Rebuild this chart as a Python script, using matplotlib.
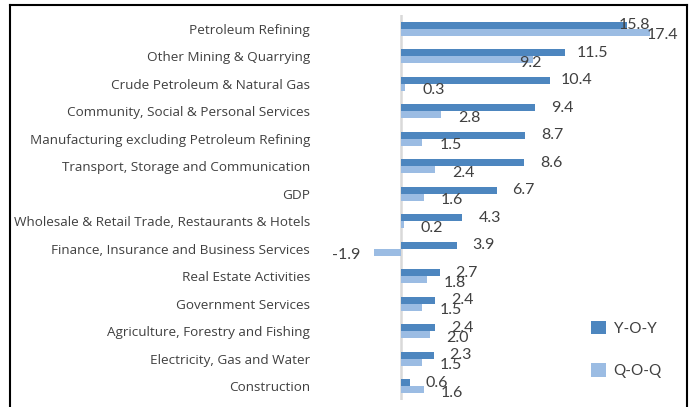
#!/usr/bin/env python3

import matplotlib
matplotlib.use("Agg")
import matplotlib.pyplot as plt
import numpy as np
from matplotlib.lines import Line2D

categories = [
    'Petroleum Refining',
    'Other Mining & Quarrying',
    'Crude Petroleum & Natural Gas',
    'Community, Social & Personal Services',
    'Manufacturing excluding Petroleum Refining',
    'Transport, Storage and Communication',
    'GDP',
    'Wholesale & Retail Trade, Restaurants & Hotels',
    'Finance, Insurance and Business Services',
    'Real Estate Activities',
    'Government Services',
    'Agriculture, Forestry and Fishing',
    'Electricity, Gas and Water',
    'Construction',
]
yoy = [15.8, 11.5, 10.4, 9.4, 8.7, 8.6, 6.7, 4.3, 3.9, 2.7, 2.4, 2.4, 2.3, 0.6]
qoq = [17.4, 9.2, 0.3, 2.8, 1.5, 2.4, 1.6, 0.2, -1.9, 1.8, 1.5, 2.0, 1.5, 1.6]

DARK = '#4d86bf'
LIGHT = '#9bbce3'
TEXT = '#404040'

W, H = 694, 407
fig = plt.figure(figsize=(W / 100, H / 100), dpi=100)

# plot area in pixels: zero line at x=401, 14.3 px per unit
px_per_unit = 14.3
ax_left, ax_right = 360, 675
ax_top, ax_bottom = 15, 400
ax = fig.add_axes([ax_left / W, 1 - ax_bottom / H,
                   (ax_right - ax_left) / W, (ax_bottom - ax_top) / H])
ax.set_xlim((ax_left - 401) / px_per_unit, (ax_right - 401) / px_per_unit)
ax.set_ylim(len(categories) - 0.5, -0.5)

y = np.arange(len(categories))
bh = 0.255
ax.barh(y - bh / 2, yoy, height=bh, color=DARK, label='Y-O-Y')
ax.barh(y + bh / 2, qoq, height=bh, color=LIGHT, label='Q-O-Q')
ax.axvline(0, color='#d9d9d9', lw=1.8, zorder=0.5)

ax.set_yticks(y)
ax.set_yticklabels(categories, fontsize=9.7, color=TEXT, family='Open Sans')
# labels end at x=310px; pad is in points (0.72 pt per px)
ax.tick_params(axis='y', length=0, pad=(ax_left - 310) * 0.72)
ax.set_xticks([])
for s in ax.spines.values():
    s.set_visible(False)
ax.patch.set_alpha(0)

# value labels, nudged like the original (offsets in pixels)
yoy_dx = {0: 7}
qoq_dx = {0: 13, 1: -2}
for i, v in enumerate(yoy):
    dx = yoy_dx.get(i, 27)
    ax.annotate(f'{v:.1f}', (v, i - bh / 2), xytext=(dx if v >= 0 else -dx, 0),
                textcoords='offset pixels', ha='center', va='center',
                fontsize=11.5, color=TEXT, family='Lato')
for i, v in enumerate(qoq):
    dx = qoq_dx.get(i, 28)
    ax.annotate(f'{v:.1f}', (v, i + bh / 2), xytext=(dx if v >= 0 else -dx, -3),
                textcoords='offset pixels', ha='center', va='center',
                fontsize=11.5, color=TEXT, family='Lato')

leg = fig.legend(loc='upper left', bbox_to_anchor=(577 / W, 1 - 307 / H),
                 frameon=False, labelcolor=TEXT,
                 handlelength=1.0, handleheight=1.0, handletextpad=0.5,
                 labelspacing=1.8, prop={'family': 'Lato', 'size': 11})

# outer frame (bottom edge is cropped in the original)
fx = lambda px: px / W
fy = lambda py: 1 - py / H
for xs, ys in [((10, 10), (407, 5)), ((10, 687), (5, 5)), ((687, 687), (5, 407))]:
    fig.add_artist(Line2D([fx(a) for a in xs], [fy(b) for b in ys],
                          color='black', lw=1.5))

fig.savefig('out.png', dpi=100)
